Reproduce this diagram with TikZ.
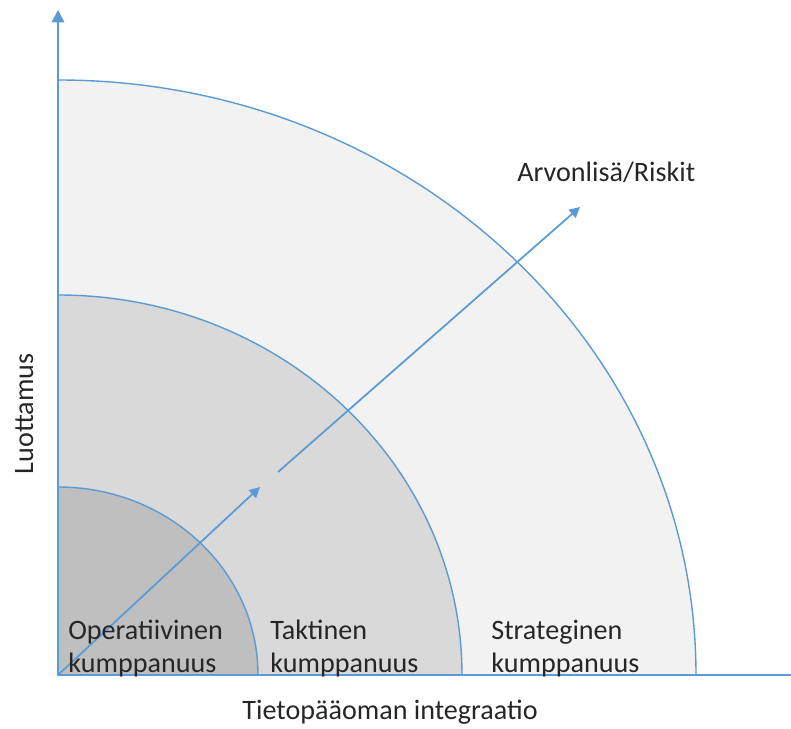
\documentclass[tikz,border=0pt]{standalone}
\usepackage{fontspec}
\setmainfont{Carlito}
\usetikzlibrary{arrows.meta,positioning}
\definecolor{axisblue}{HTML}{5B9BD5}
\definecolor{ringout}{HTML}{F2F2F2}
\definecolor{ringmid}{HTML}{D9D9D9}
\definecolor{ringin}{HTML}{BFBFBF}

\begin{document}
\begin{tikzpicture}[every node/.style={font=\fontsize{16}{19.3}\selectfont, text=black!85, inner sep=0pt},
    ring/.style={draw=axisblue, line width=0.8pt},
    axisline/.style={draw=axisblue, line width=1.2pt},
    flow/.style={draw=axisblue, line width=1pt, -{Triangle[width=6pt,length=6pt]}}]
    \useasboundingbox (-1.16,-1.08) rectangle (14.66,13.5);

    % Quarter rings, outer to inner
    \filldraw[ring, fill=ringout] (0,0) -- (12.76,0) arc[start angle=0, end angle=90, x radius=12.76, y radius=11.9] -- cycle;
    \filldraw[ring, fill=ringmid] (0,0) -- (8.08,0) arc[start angle=0, end angle=90, x radius=8.08, y radius=7.6] -- cycle;
    \filldraw[ring, fill=ringin] (0,0) -- (4.0,0) arc[start angle=0, end angle=90, x radius=4.0, y radius=3.76] -- cycle;

    % Axes
    \coordinate (origin) at (0,0);
    \coordinate (ytop) at (0,13.3);
    \coordinate (xend) at (14.66,0);
    \draw[axisline, -{Triangle[width=7pt,length=7pt]}] (origin) -- (ytop);
    \draw[axisline] (origin) -- (xend);

    % Diagonal arrow in two parts
    \coordinate (d1) at (4.04,3.76);
    \coordinate (d2s) at (4.4,4.06);
    \coordinate (d2e) at (10.44,9.36);
    \draw[flow] (origin) -- (d1);
    \draw[flow] (d2s) -- (d2e);

    % Labels
    \node[anchor=west] (value) at (9.18,10.06) {Arvonlisä/Riskit};
    \node[anchor=base west, align=left] (oper) at (0.2,0.04) {Operatiivinen\\kumppanuus};
    \node[anchor=base west, align=left] (takt) at (4.24,0.04) {Taktinen\\kumppanuus};
    \node[anchor=base west, align=left] (strat) at (8.66,0.04) {Strateginen\\kumppanuus};
    \node[anchor=base] (xlabel) at (6.64,-0.9) {Tietopääoman integraatio};
    \node[anchor=base, rotate=90] (ylabel) at (-0.5,5.22) {Luottamus};
\end{tikzpicture}
\end{document}
